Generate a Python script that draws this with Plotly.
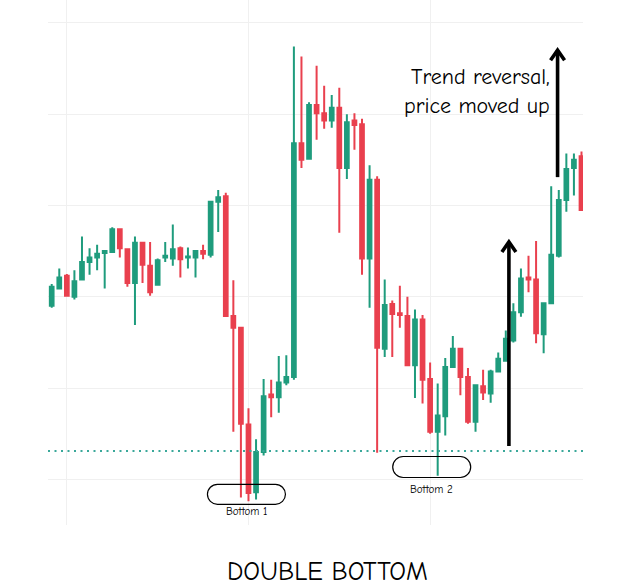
import plotly.graph_objects as go

# ---- data ----
opens = [119.0, 120.9, 122.3, 120.0, 121.9, 123.8, 124.3, 124.8, 124.9, 127.4,
         125.2, 121.5, 125.9, 123.4, 121.3, 124.3, 124.2, 125.3, 124.3, 124.3,
         125.0, 124.6, 130.4, 131.0, 117.9, 116.6, 106.0, 98.6, 103.0, 109.3,
         109.0, 110.6, 111.2, 136.8, 135.1, 141.0, 140.1, 139.3, 140.7, 134.1,
         139.3, 138.9, 124.2, 132.8, 114.3, 119.2, 118.2, 117.9, 112.5, 117.5,
         111.0, 105.2, 106.9, 112.3, 114.3, 111.2, 106.3, 110.2, 109.4, 111.8,
         113.0, 115.2, 118.3, 122.1, 121.9, 115.9, 119.3, 124.5, 130.6, 134.1, 135.4]
closes = [121.1, 122.1, 120.1, 121.7, 123.8, 124.3, 124.7, 125.0, 127.4, 125.3,
          121.5, 125.9, 123.5, 120.5, 124.0, 124.5, 125.2, 124.1, 124.4, 125.0,
          124.7, 130.4, 130.9, 117.9, 116.6, 106.1, 98.5, 103.0, 109.1, 109.0,
          110.6, 111.2, 136.8, 135.0, 141.0, 140.1, 139.3, 140.7, 134.1, 139.1,
          138.8, 124.2, 132.8, 114.4, 119.1, 118.1, 118.0, 112.5, 117.5, 110.9,
          105.2, 107.0, 112.3, 114.3, 111.2, 106.3, 110.3, 109.5, 111.8, 113.2,
          115.4, 118.3, 122.0, 121.9, 116.0, 119.3, 124.6, 130.6, 134.0, 135.0, 129.5]
highs = [121.4, 123.1, 122.5, 122.9, 126.6, 125.3, 125.7, 125.1, 127.6, 127.5,
         125.3, 126.6, 126.0, 126.0, 124.2, 126.0, 127.9, 125.5, 125.4, 125.1,
         125.7, 130.5, 131.7, 131.4, 121.8, 116.7, 107.8, 104.4, 111.0, 110.9,
         113.5, 113.6, 147.4, 146.3, 141.3, 145.3, 143.1, 142.1, 142.9, 140.0,
         140.1, 139.5, 134.4, 133.2, 121.9, 119.6, 121.2, 120.0, 118.6, 118.0,
         112.8, 110.5, 113.3, 115.7, 114.4, 112.2, 110.4, 112.0, 112.0, 113.9,
         116.3, 119.3, 123.1, 124.5, 126.1, 119.4, 132.1, 131.7, 135.7, 135.7, 135.9]
lows = [118.8, 120.8, 120.0, 119.7, 121.8, 122.4, 122.9, 120.9, 124.8, 124.3,
        121.1, 116.9, 121.5, 120.1, 121.2, 123.8, 123.4, 122.1, 123.1, 122.1,
        124.1, 124.3, 127.1, 117.8, 105.2, 98.0, 97.6, 97.8, 102.6, 106.8,
        107.3, 110.3, 110.9, 134.1, 135.0, 137.2, 138.4, 138.5, 127.0, 132.9,
        136.1, 122.4, 118.8, 102.9, 113.4, 113.4, 116.6, 112.4, 108.9, 108.3,
        105.0, 100.4, 104.8, 112.2, 109.2, 106.1, 105.2, 108.7, 108.4, 111.7,
        112.9, 115.0, 117.8, 120.5, 114.9, 113.8, 119.2, 124.3, 129.3, 131.1, 129.4]
bars = list(range(len(opens)))

support_level = 103.1
bottom_labels = ["Bottom 1", "Bottom 2"]
bottom_x = [25.73, 50.21]
bottom_y = [98.36, 101.35]
bottom_label_y = [96.5, 98.9]
arrow_x = [60.41, 66.84]
arrow_tail = [103.65, 133.1]
arrow_tip = [126.0, 147.0]
note_text = "Trend reversal,<br>price moved up"
title_text = "DOUBLE BOTTOM"

GREEN = "#1f9c7d"
RED = "#e9404e"
FONT = "Comic Sans MS, Comic Neue, Noto Sans, sans-serif"

fig = go.Figure()
fig.add_trace(go.Candlestick(
    x=bars, open=opens, high=highs, low=lows, close=closes,
    increasing=dict(line=dict(color=GREEN, width=2), fillcolor=GREEN),
    decreasing=dict(line=dict(color=RED, width=2), fillcolor=RED),
    showlegend=False, hoverinfo="skip",
))

shapes = []
# dotted support line
shapes.append(dict(type="line", xref="x domain", yref="y", x0=0, x1=1,
                   y0=support_level, y1=support_level,
                   line=dict(color="#3aa89a", width=2, dash="2px,4.5px")))
# bottom pills
pill_w = [39, 39]
pill_h = [10, 10.5]
for bx, by, w, h in zip(bottom_x, bottom_y, pill_w, pill_h):
    r = h
    k = 0.55 * r
    f = w - r
    path = (f"M {-f},{-h} L {f},{-h} C {f + k},{-h} {w},{-k} {w},0 "
            f"C {w},{k} {f + k},{h} {f},{h} L {-f},{h} "
            f"C {-f - k},{h} {-w},{k} {-w},0 C {-w},{-k} {-f - k},{-h} {-f},{-h} Z")
    shapes.append(dict(type="path", xref="x", yref="y", xsizemode="pixel",
                       ysizemode="pixel", xanchor=bx, yanchor=by, path=path,
                       line=dict(color="black", width=1.2)))
# arrows
for ax_, t0, t1 in zip(arrow_x, arrow_tail, arrow_tip):
    shapes.append(dict(type="line", xref="x", yref="y", x0=ax_, x1=ax_,
                       y0=t0, y1=t1, line=dict(color="black", width=3.6)))
    shapes.append(dict(type="path", xref="x", yref="y", xsizemode="pixel",
                       ysizemode="pixel", xanchor=ax_, yanchor=t1,
                       path="M -7,-10 L 0,0 L 7,-10",
                       line=dict(color="black", width=3.6)))

annotations = []
for lbl, bx, ly in zip(bottom_labels, bottom_x, bottom_label_y):
    annotations.append(dict(x=bx, y=ly, xref="x", yref="y", text=lbl,
                            showarrow=False, font=dict(family=FONT, size=11, color="black")))
annotations.append(dict(x=66.1, y=142.5, xref="x", yref="y", text=note_text,
                        showarrow=False, xanchor="right", yanchor="middle", align="right",
                        font=dict(family=FONT, size=22, color="black")))
annotations.append(dict(x=0.523, y=-0.09, xref="paper", yref="paper", text=title_text,
                        showarrow=False, xanchor="center", yanchor="middle",
                        font=dict(family=FONT, size=26, color="black")))

fig.update_layout(
    width=630, height=587,
    margin=dict(l=48, r=47, t=0, b=62),
    paper_bgcolor="white", plot_bgcolor="white",
    shapes=shapes, annotations=annotations,
    xaxis=dict(range=[-0.49, 70.2], showticklabels=False, showgrid=True,
               gridcolor="#f0f0f0", gridwidth=1, tick0=2, dtick=24,
               zeroline=False, showline=False, ticks="",
               rangeslider=dict(visible=False)),
    yaxis=dict(range=[95.0, 152.5], showticklabels=False, showgrid=True,
               gridcolor="#f0f0f0", gridwidth=1, tick0=100, dtick=10,
               zeroline=False, showline=False, ticks=""),
)

fig.write_html("out.html", config={"displayModeBar": False},
               post_script="document.body.style.margin='0';document.body.style.overflow='hidden';")
